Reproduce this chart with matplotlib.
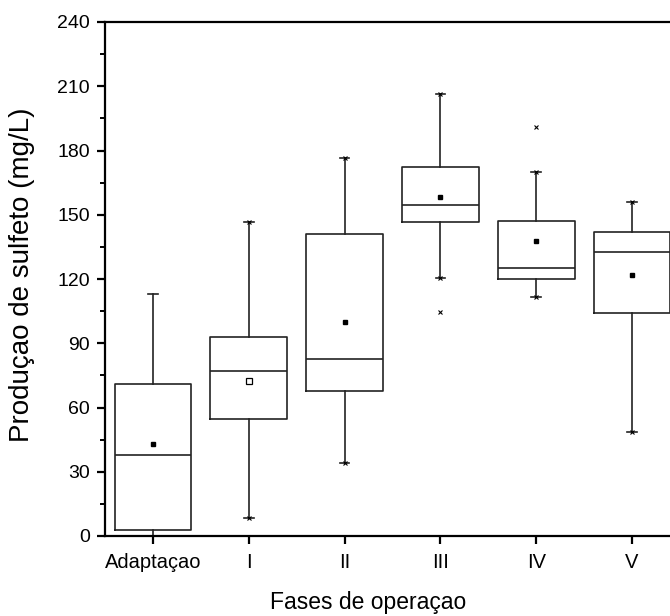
from matplotlib import pyplot as plt

fases = ['Adaptaçao', 'I', 'II', 'III', 'IV', 'V']
q1 = [2.8, 54.8, 67.8, 146.6, 120.0, 104.0]
mediana = [37.8, 77.2, 82.8, 154.5, 125.1, 132.4]
q3 = [71.0, 93.0, 141.0, 172.4, 147.1, 142.1]
minimo = [0.0, 8.3, 33.9, 120.6, 111.7, 48.4]
maximo = [113.0, 146.4, 176.3, 206.3, 170.1, 155.9]
media = [43.1, 72.2, 100.0, 158.1, 137.7, 121.7]
outliers = [[], [], [], [104.7], [190.9], []]

plt.rcParams['font.family'] = ['Liberation Sans', 'DejaVu Sans']

fig = plt.figure(figsize=(6.7, 6.16), dpi=100)
ax = fig.add_axes([105 / 670, 1 - 536 / 616, 575 / 670, 514 / 616])

pos = list(range(1, len(fases) + 1))
stats = []
for i in range(len(fases)):
  stats.append({'q1': q1[i], 'med': mediana[i], 'q3': q3[i],
                'whislo': minimo[i], 'whishi': maximo[i],
                'fliers': outliers[i]})

ax.bxp(stats, positions=pos, widths=0.8, capwidths=0.1,
       boxprops=dict(color='#222222', linewidth=1.2),
       medianprops=dict(color='#222222', linewidth=1.2),
       whiskerprops=dict(color='#222222', linewidth=1.2),
       capprops=dict(color='#222222', linewidth=1.2),
       flierprops=dict(marker='x', markersize=3.5, markeredgecolor='black',
                       markeredgewidth=0.8))

# medias; a da fase I aparece vazada
for i in range(len(fases)):
  if i == 1:
    ax.plot(pos[i], media[i], marker='s', ms=4, mfc='white', mec='black', mew=0.9)
  else:
    ax.plot(pos[i], media[i], marker='s', ms=2.5, mfc='black', mec='black')
ax.plot(pos[1:], maximo[1:], 'x', ms=3.5, mec='black', mew=0.8)
ax.plot(pos[1:], minimo[1:], 'x', ms=3.5, mec='black', mew=0.8)

ax.set_xlim(0.5, 6.5)
ax.set_ylim(0, 240)
ax.set_yticks(range(0, 241, 30))
ax.set_yticks(range(15, 241, 30), minor=True)
ax.set_xticks(pos)
ax.set_xticklabels(fases)

for s in ax.spines.values():
  s.set_linewidth(1.6)
ax.tick_params(axis='both', which='major', direction='out', length=6, width=1.6)
ax.tick_params(axis='y', which='minor', direction='out', length=3.5, width=1.4)
ax.tick_params(axis='y', labelsize=14, pad=5)
ax.tick_params(axis='x', labelsize=14.5, pad=6)

fig.text(368 / 670, 1 - 609 / 616, 'Fases de operaçao', fontsize=16.5,
         ha='center', va='baseline')
fig.text(22 / 670, 1 - 275 / 616, 'Produçao de sulfeto (mg/L)', fontsize=20,
         rotation=90, ha='center', va='center')

fig.savefig('out.png', dpi=100)
